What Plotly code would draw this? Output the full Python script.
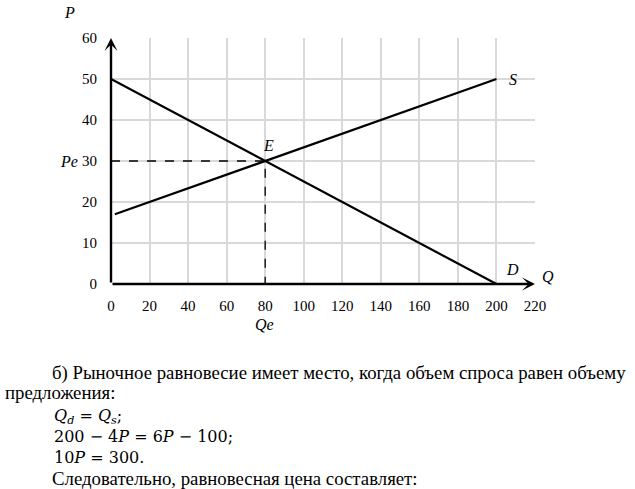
import plotly.graph_objects as go

# Data
demand_q = [0, 200]
demand_p = [50, 0]
supply_q = [2, 200]
supply_p = [17, 50]
eq_q = 80
eq_p = 30
x_ticks = [0, 20, 40, 60, 80, 100, 120, 140, 160, 180, 200, 220]
y_ticks = [0, 10, 20, 30, 40, 50, 60]

W, H = 635, 489
L, R, T, B = 110.5, 535.3, 37.7, 284.3

SERIF = "Liberation Serif"
MATH = "DejaVu Serif"

fig = go.Figure()

# dashed guide lines
fig.add_trace(go.Scatter(x=[0, eq_q, eq_q], y=[eq_p, eq_p, 0], mode="lines",
                         line=dict(color="black", width=1.3, dash="dash"),
                         hoverinfo="skip", showlegend=False, cliponaxis=False))
fig.add_trace(go.Scatter(x=demand_q, y=demand_p, mode="lines",
                         line=dict(color="black", width=2.2), showlegend=False, cliponaxis=False))
fig.add_trace(go.Scatter(x=supply_q, y=supply_p, mode="lines",
                         line=dict(color="black", width=2.2), showlegend=False, cliponaxis=False))

ann = []
# axes with arrows
ann.append(dict(x=0, y=60, ax=0, ay=0, xref="x", yref="y", axref="x", ayref="y",
                showarrow=True, arrowhead=3, arrowsize=0.9, arrowwidth=2.4, arrowcolor="black", text=""))
ann.append(dict(x=220, y=0, ax=0, ay=0, xref="x", yref="y", axref="x", ayref="y",
                showarrow=True, arrowhead=3, arrowsize=0.9, arrowwidth=2.4, arrowcolor="black", text=""))


def px(x, y):
    return (x - L) / (R - L), (B - y) / (B - T)


def label(text, x, y, size=16, xanchor="center", italic=True, family=SERIF):
    xp, yp = px(x, y)
    t = f"<i>{text}</i>" if italic else text
    ann.append(dict(text=t, x=xp, y=yp, xref="paper", yref="paper", showarrow=False,
                    xanchor=xanchor, yanchor="middle", font=dict(family=family, size=size, color="black")))


label("P", 69, 12)
label("Q", 548, 277)
label("S", 513, 79)
label("D", 513, 270)
label("E", 268, 145)
label("Pe", 68, 161)
label("Qe", 264, 325)

# text below
TS = 18.8
MS = 16
label("б) Рыночное равновесие имеет место, когда объем спроса равен объему", 49, 374, TS, "left", False)
label("предложения:", 2, 393, TS, "left", False)
label("<i>Q</i><sub><i>d</i></sub> = <i>Q</i><sub><i>s</i></sub>;", 51, 417, MS, "left", False, MATH)
label("200 − 4<i>P</i> = 6<i>P</i> − 100;", 51, 437, MS, "left", False, MATH)
label("10<i>P</i> = 300.", 51, 458, MS, "left", False, MATH)
label("Следовательно, равновесная цена составляет:", 49, 479, TS, "left", False)

fig.update_layout(
    width=W, height=H,
    margin=dict(l=L, r=W - R, t=T, b=H - B, pad=0),
    paper_bgcolor="white", plot_bgcolor="white",
    showlegend=False,
    annotations=ann,
    font=dict(family=SERIF, size=15, color="black"),
)
fig.update_xaxes(range=[0, 220], tickvals=x_ticks, showgrid=True, gridcolor="#d9d9d9", gridwidth=1.5,
                 zeroline=False, showline=False, ticks="outside", ticklen=8, tickcolor="rgba(0,0,0,0)",
                 tickfont=dict(family=SERIF, size=15, color="black"), fixedrange=True)
fig.update_yaxes(range=[0, 60], tickvals=y_ticks, showgrid=True, gridcolor="#d9d9d9", gridwidth=1.5,
                 zeroline=False, showline=False, ticks="outside", ticklen=10, tickcolor="rgba(0,0,0,0)",
                 tickfont=dict(family=SERIF, size=15, color="black"), fixedrange=True)

fig.write_html("out.html")
